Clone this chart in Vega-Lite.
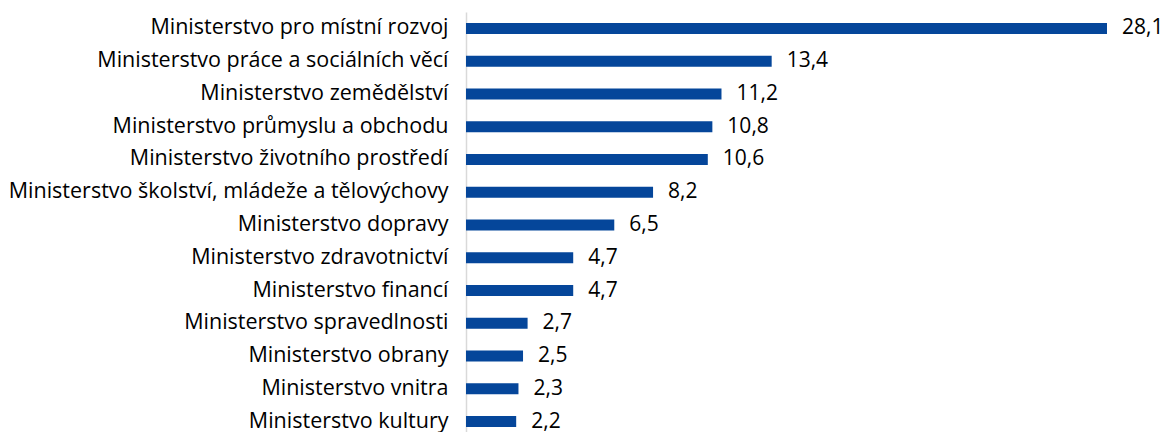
{
  "$schema": "https://vega.github.io/schema/vega-lite/v6.json",
  "autosize": {"type": "none"},
  "padding": {"left": 466, "top": 12, "right": 62, "bottom": 0},
  "width": 641,
  "height": 426,
  "background": "white",
  "config": {
    "view": {"stroke": null},
    "font": "Open Sans",
    "locale": {"number": {"decimal": ",", "thousands": " ", "grouping": [3], "currency": ["", " Kč"]}}
  },
  "data": {"values": [
    {"ministerstvo": "Ministerstvo pro místní rozvoj", "hodnota": 28.1},
    {"ministerstvo": "Ministerstvo práce a sociálních věcí", "hodnota": 13.4},
    {"ministerstvo": "Ministerstvo zemědělství", "hodnota": 11.2},
    {"ministerstvo": "Ministerstvo průmyslu a obchodu", "hodnota": 10.8},
    {"ministerstvo": "Ministerstvo životního prostředí", "hodnota": 10.6},
    {"ministerstvo": "Ministerstvo školství, mládeže a tělovýchovy", "hodnota": 8.2},
    {"ministerstvo": "Ministerstvo dopravy", "hodnota": 6.5},
    {"ministerstvo": "Ministerstvo zdravotnictví", "hodnota": 4.7},
    {"ministerstvo": "Ministerstvo financí", "hodnota": 4.7},
    {"ministerstvo": "Ministerstvo spravedlnosti", "hodnota": 2.7},
    {"ministerstvo": "Ministerstvo obrany", "hodnota": 2.5},
    {"ministerstvo": "Ministerstvo vnitra", "hodnota": 2.3},
    {"ministerstvo": "Ministerstvo kultury", "hodnota": 2.2}
  ]},
  "encoding": {
    "y": {"field": "ministerstvo", "type": "nominal", "sort": null, "title": null,
      "axis": {"ticks": false, "domainColor": "#D9D9D9", "domainWidth": 1.5, "labelFontSize": 21.5, "labelColor": "#000000", "labelPadding": 18, "labelLimit": 600, "labelFont": "Open Sans"}},
    "x": {"field": "hodnota", "type": "quantitative", "scale": {"domain": [0, 28.1], "nice": false}, "axis": null}
  },
  "layer": [
    {"mark": {"type": "bar", "size": 11, "color": "#05469A"}},
    {"mark": {"type": "text", "align": "left", "dx": 15, "fontSize": 21, "color": "#000000", "baseline": "middle", "font": "Open Sans"},
     "encoding": {"text": {"field": "hodnota", "type": "quantitative", "format": ".1f"}}}
  ]
}
